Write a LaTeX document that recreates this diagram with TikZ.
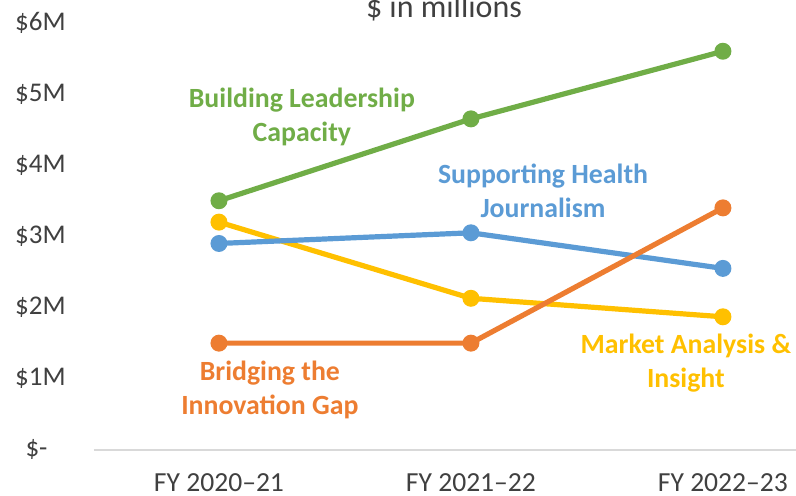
\documentclass[tikz,border=0pt]{standalone}
\usepackage{fontspec}
\setmainfont{Carlito}
\begin{document}
\begin{tikzpicture}[
                x=126pt, y=35.6pt,
                font=\fontsize{13.8pt}{17pt}\selectfont,
                dot/.style={
                    circle, inner sep=0pt, minimum size=8.5pt
                },
                series/.style={
                    line width=2.6pt, line cap=round
                },
                tag/.style={
                    font=\fontsize{13.9pt}{17pt}\selectfont\bfseries, align=center
                },
                axislabel/.style={
                    text=darkgray, anchor=east, inner sep=0pt, font=\fontsize{13.5pt}{17pt}\selectfont
                }
            ]
            \definecolor{darkgray}{HTML}{404040}
            \definecolor{axisgray}{HTML}{D9D9D9}
            \definecolor{leadgreen}{HTML}{70AD47}
            \definecolor{healthblue}{HTML}{5B9BD5}
            \definecolor{gaporange}{HTML}{ED7D31}
            \definecolor{marketyellow}{HTML}{FFC000}
            \useasboundingbox (-0.869, -0.646) rectangle (2.290, 6.320);

            % axes
            \coordinate (axL) at (-0.496, 0);
            \coordinate (axR) at (2.29, 0);
            \draw[axisgray, line width=0.8pt] (axL) -- (axR);
            \node[text=darkgray, anchor=base, font=\fontsize{16pt}{19pt}\selectfont] (title) at (0.893, 6.081) {\$ in millions};
            \node[axislabel] (y6) at (-0.607, 6) {\$6M};
            \node[axislabel] (y5) at (-0.607, 5) {\$5M};
            \node[axislabel] (y4) at (-0.607, 4) {\$4M};
            \node[axislabel] (y3) at (-0.607, 3) {\$3M};
            \node[axislabel] (y2) at (-0.607, 2) {\$2M};
            \node[axislabel] (y1) at (-0.607, 1) {\$1M};
            \node[axislabel] (y0) at (-0.679, 0) {\$-};
            \node[text=darkgray] (x1) at (0, -0.463) {FY 2020--21};
            \node[text=darkgray] (x2) at (1, -0.463) {FY 2021--22};
            \node[text=darkgray] (x3) at (2, -0.463) {FY 2022--23};

            % points
            \node[dot, fill=marketyellow] (m1) at (0, 3.2) {};
            \node[dot, fill=marketyellow] (m2) at (1, 2.13) {};
            \node[dot, fill=marketyellow] (m3) at (2, 1.87) {};
            \node[dot, fill=healthblue] (h1) at (0, 2.9) {};
            \node[dot, fill=healthblue] (h2) at (1, 3.05) {};
            \node[dot, fill=healthblue] (h3) at (2, 2.55) {};
            \node[dot, fill=gaporange] (b1) at (0, 1.5) {};
            \node[dot, fill=gaporange] (b2) at (1, 1.5) {};
            \node[dot, fill=gaporange] (b3) at (2, 3.4) {};
            \node[dot, fill=leadgreen] (l1) at (0, 3.5) {};
            \node[dot, fill=leadgreen] (l2) at (1, 4.65) {};
            \node[dot, fill=leadgreen] (l3) at (2, 5.6) {};

            % lines
            \draw[series, marketyellow] (m1.center) -- (m2.center) -- (m3.center);
            \draw[series, healthblue] (h1.center) -- (h2.center) -- (h3.center);
            \draw[series, gaporange] (b1.center) -- (b2.center) -- (b3.center);
            \draw[series, leadgreen] (l1.center) -- (l2.center) -- (l3.center);

            % series names
            \node[tag, text=leadgreen] (ltag) at (0.329, 4.677) {Building Leadership\\Capacity};
            \node[tag, text=healthblue] (htag) at (1.286, 3.638) {Supporting Health\\Journalism};
            \node[tag, text=gaporange] (btag) at (0.202, 0.843) {Bridging the\\Innovation Gap};
            \node[tag, text=marketyellow] (mtag) at (1.853, 1.222) {Market Analysis \&\\Insight};
            \end{tikzpicture}
\end{document}
